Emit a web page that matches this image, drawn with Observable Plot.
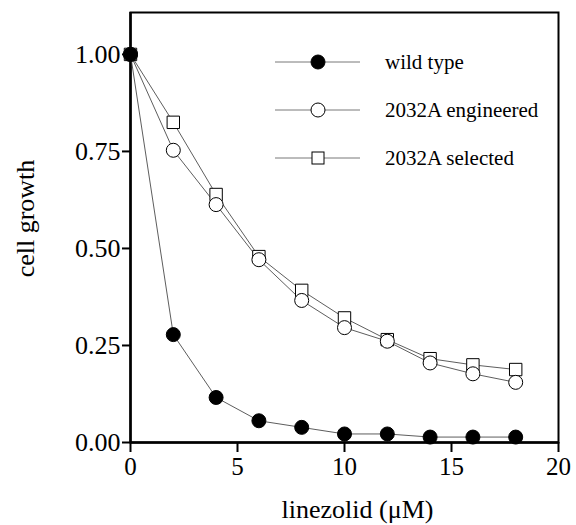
<!DOCTYPE html>
<html>
<head>
<meta charset="utf-8">
<script src="https://cdn.jsdelivr.net/npm/d3@7"></script>
<script src="https://cdn.jsdelivr.net/npm/@observablehq/plot@0.6"></script>
<style>
  html, body { margin: 0; padding: 0; background: #fff; }
  svg, svg text { font-family: "Liberation Serif", "DejaVu Serif", serif !important; font-variant-numeric: normal !important; }
</style>
</head>
<body>
<div id="chart"></div>
<script>
const concentrations = [0, 2, 4, 6, 8, 10, 12, 14, 16, 18];
const wildType   = [1.00, 0.278, 0.116, 0.056, 0.039, 0.022, 0.022, 0.014, 0.014, 0.014];
const engineered = [1.00, 0.753, 0.613, 0.471, 0.366, 0.296, 0.261, 0.205, 0.177, 0.155];
const selected   = [1.00, 0.825, 0.639, 0.479, 0.392, 0.321, 0.265, 0.216, 0.200, 0.188];
const seriesNames = ["wild type", "2032A engineered", "2032A selected"];
const xTicks = [0, 5, 10, 15, 20];
const yTicks = [0, 0.25, 0.5, 0.75, 1.0];
const xLabel = "linezolid (μM)";
const yLabel = "cell growth";

const toRows = (vals, name) => concentrations.map((c, i) => ({x: c, y: vals[i], series: name}));
const wt = toRows(wildType, seriesNames[0]);
const en = toRows(engineered, seriesNames[1]);
const se = toRows(selected, seriesNames[2]);

const lineStyle = {x: "x", y: "y", stroke: "#333", strokeWidth: 0.8};

const plot = Plot.plot({
  width: 576,
  height: 525,
  marginLeft: 130,
  marginRight: 18,
  marginTop: 12,
  marginBottom: 83,
  style: {fontFamily: "Liberation Serif", background: "#fff"},
  x: {domain: [0, 20]},
  y: {domain: [0, 1.108]},
  marks: [
    Plot.frame({stroke: "#000", strokeWidth: 2}),
    Plot.axisX({ticks: xTicks, tickSize: 10, tickPadding: 5, fontSize: 25, label: null, strokeWidth: 2}),
    Plot.axisY({ticks: yTicks, tickSize: 8, tickPadding: 2, fontSize: 26, tickFormat: d3.format(".2f"), label: null, strokeWidth: 2}),
    Plot.ruleX([0], {stroke: "#000", strokeWidth: 2.5}),
    Plot.ruleY([0], {stroke: "#000", strokeWidth: 2.5}),
    Plot.line(se, lineStyle),
    Plot.line(en, lineStyle),
    Plot.line(wt, lineStyle),
    Plot.dot(se, {x: "x", y: "y", symbol: "square", r: 7, fill: "#fff", stroke: "#000", strokeWidth: 1}),
    Plot.dot(en, {x: "x", y: "y", symbol: "circle", r: 7, fill: "#fff", stroke: "#000", strokeWidth: 1}),
    Plot.dot(wt, {x: "x", y: "y", symbol: "circle", r: 7, fill: "#000", stroke: "#000", strokeWidth: 1}),
    Plot.text([xLabel], {frameAnchor: "bottom", textAnchor: "middle", lineAnchor: "middle", dy: 67, dx: 13, fontSize: 26, fill: "#000"}),
    Plot.text([yLabel], {frameAnchor: "left", textAnchor: "middle", lineAnchor: "middle", rotate: -90, dx: -105, dy: -9, fontSize: 26, fill: "#000"})
  ]
});

document.getElementById("chart").appendChild(plot);

// Legend (inside the plot frame, top right)
const svg = d3.select(plot);
const legendItems = [
  {name: seriesNames[0], symbol: "circle", fill: "#000"},
  {name: seriesNames[1], symbol: "circle", fill: "#fff"},
  {name: seriesNames[2], symbol: "square", fill: "#fff"}
];
const lg = svg.append("g").attr("transform", "translate(275,62)");
legendItems.forEach((it, i) => {
  const g = lg.append("g").attr("transform", `translate(0,${i * 48})`);
  g.append("line").attr("x1", 0).attr("x2", 85).attr("y1", 0).attr("y2", 0)
    .attr("stroke", "#555").attr("stroke-width", 0.8);
  if (it.symbol === "circle") {
    g.append("circle").attr("cx", 43).attr("cy", 0).attr("r", 7)
      .attr("fill", it.fill).attr("stroke", "#000").attr("stroke-width", 1);
  } else {
    g.append("rect").attr("x", 37).attr("y", -6).attr("width", 12).attr("height", 12)
      .attr("fill", it.fill).attr("stroke", "#000").attr("stroke-width", 1);
  }
  g.append("text").attr("x", 110).attr("y", 0).attr("dy", "0.35em")
    .attr("text-anchor", "start")
    .attr("font-size", 21).attr("fill", "#000").text(it.name);
});
</script>
</body>
</html>
